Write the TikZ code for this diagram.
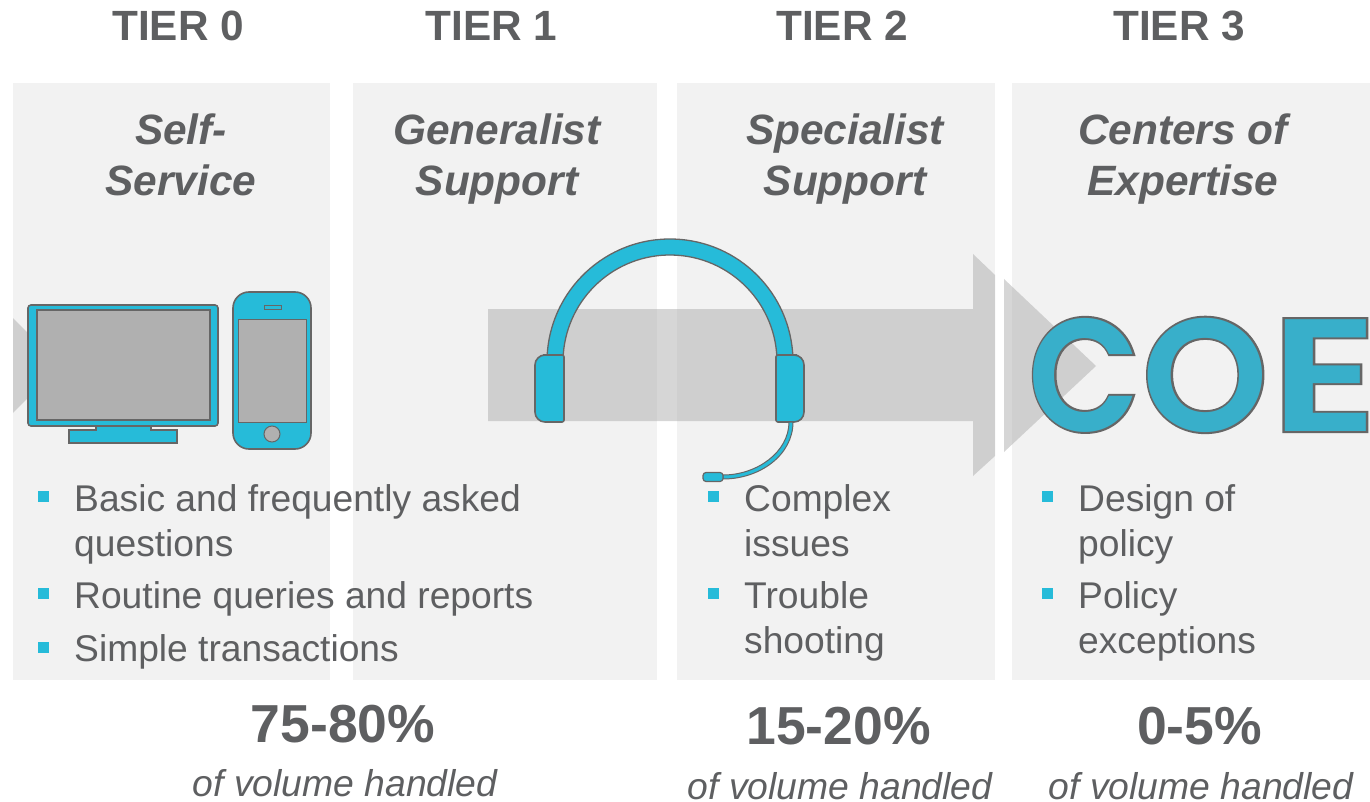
\documentclass[tikz,border=0pt]{standalone}
\usepackage{fontspec}
\setmainfont{Liberation Sans}
\newfontfamily\logofont{Poppins SemiBold}
\newfontfamily\logooutline[FakeBold=2.5]{Poppins SemiBold}
\usetikzlibrary{calc}

\definecolor{panelgrey}{HTML}{F2F2F2}
\definecolor{textgrey}{HTML}{5E5F61}
\definecolor{arrowgrey}{HTML}{A6A6A6}
\definecolor{iconblue}{HTML}{26BBD9}
\definecolor{logoblue}{HTML}{38AFCA}
\definecolor{iconedge}{HTML}{666666}
\definecolor{screengrey}{HTML}{B0B0B0}

\newcommand{\logoword}{\scalebox{.91}[1]{C}\kern2pt O\kern3pt\scalebox{1.25}[1]{E}}

\tikzset{
  panel/.style={fill=panelgrey},
  flow/.style={fill=arrowgrey, fill opacity=0.46},
  icon/.style={draw=iconedge, fill=iconblue, line width=1.6pt},
  screen/.style={draw=iconedge, fill=screengrey, line width=1.6pt},
  tier/.style={text=textgrey, font=\fontsize{42.3}{42}\selectfont\bfseries, anchor=base},
  title/.style={text=textgrey, font=\fontsize{42.4}{51}\selectfont\bfseries\itshape, align=center, anchor=base},
  item/.style={text=textgrey, font=\fontsize{37.2}{45}\selectfont, align=left, anchor=base west, inner sep=0pt},
  tick/.style={fill=iconblue},
  share/.style={text=textgrey, font=\fontsize{53.5}{54}\selectfont\bfseries, anchor=base},
  volume/.style={text=textgrey, font=\fontsize{37.3}{37}\selectfont\itshape, anchor=base},
  logoedge/.style={text=iconedge, anchor=base west, inner sep=0pt, font=\logooutline\fontsize{160}{160}\selectfont},
  logofill/.style={text=logoblue, anchor=base west, inner sep=0pt, font=\logofont\fontsize{160}{160}\selectfont}
}

\begin{document}
\begin{tikzpicture}[x=1pt,y=-1pt]
\useasboundingbox (0,0) rectangle (1370,802);

\fill[panel] (13,83) rectangle (330,680);
\fill[panel] (353,83) rectangle (657,680);
\fill[panel] (677,83) rectangle (995,680);
\fill[panel] (1012,83) rectangle (1370,680);

\fill[flow] (13,318) -- (60,365.5) -- (13,413) -- cycle;
\fill[flow] (488,309) -- (973,309) -- (973,254) -- (995,275) -- (995,456) -- (973,476) -- (973,421) -- (488,421) -- cycle;
\fill[flow] (1004,279) -- (1096,366) -- (1004,452) -- cycle;

\node[tier] (tier0) at (178,41) {TIER 0};
\node[tier] (tier1) at (491.5,41) {TIER 1};
\node[tier] (tier2) at (842,41) {TIER 2};
\node[tier] (tier3) at (1179,41) {TIER 3};

\node[title] (selfservice) at (181,195.5) {Self-\\Service};
\node[title] (generalist) at (497,195.5) {Generalist\\Support};
\node[title] (specialist) at (845,195.5) {Specialist\\Support};
\node[title] (expertise) at (1183,195.5) {Centers of\\Expertise};

% monitor
\draw[icon] (96,426) -- (96,430) -- (69,430) -- (69,443) -- (177,443) -- (177,430) -- (151,430) -- (151,426) -- cycle;
\draw[icon,rounded corners=3pt] (28,305) rectangle (218,426);
\draw[screen] (37,310) rectangle (210,420);

% phone
\draw[icon,rounded corners=16pt] (233,292) rectangle (311,449);
\draw[screen,line width=1pt] (238,319) rectangle (306,422);
\draw[icon,line width=1pt] (264,305) rectangle (281,309);
\draw[screen,line width=1pt] (272,434) circle[radius=8];

% headset
\coordinate (headtop) at (670,362);
\draw[icon,line width=1.3pt] ($(headtop)+(182:123)$) arc[start angle=182, end angle=358, radius=123] -- ($(headtop)+(358:107)$) arc[start angle=358, end angle=182, radius=107] -- cycle;
\draw[icon,rounded corners=2pt] (564,355) -- (545,355) [rounded corners=10pt] -- (535,355) -- (535,422) [rounded corners=2pt] -- (564,422) -- cycle;
\draw[icon,rounded corners=2pt] (776,355) -- (795,355) [rounded corners=10pt] -- (804,355) -- (804,422) [rounded corners=2pt] -- (776,422) -- cycle;
\draw[icon,line width=1pt] (793,422) .. controls (793,455) and (760,479) .. (723,479) -- (723,475) .. controls (757,475) and (789,452) .. (789,422) -- cycle;
\draw[icon,line width=1.2pt,rounded corners=3pt] (703,472.5) rectangle (723,481.5);

% logo
\node[logoedge] (logoedge) at (1028.4,431) {\logoword};
\node[logofill] (logofill) at (1028.4,431) {\logoword};

% left column
\fill[tick] (38,491) rectangle (49,502);
\node[item] (basic) at (74,556) {Basic and frequently asked\\questions};
\fill[tick] (38,588) rectangle (49,599);
\node[item] (routine) at (74,608) {Routine queries and reports};
\fill[tick] (38,642) rectangle (49,653);
\node[item] (simple) at (74,661) {Simple transactions};

% middle column
\fill[tick] (708,491) rectangle (719,502);
\node[item] (complex) at (744,556) {Complex\\issues};
\fill[tick] (708,588) rectangle (719,599);
\node[item] (trouble) at (744,653) {Trouble\\shooting};

% right column
\fill[tick] (1042,491) rectangle (1053,502);
\node[item] (design) at (1078,556) {Design of\\policy};
\fill[tick] (1042,588) rectangle (1053,599);
\node[item] (policy) at (1078,653) {Policy\\exceptions};

\node[share] (shareleft) at (343,742) {75-80\%};
\node[share] (sharemid) at (838.5,744) {15-20\%};
\node[share] (shareright) at (1199.5,744) {0-5\%};

\node[volume] (volleft) at (345,796) {of volume handled};
\node[volume] (volmid) at (840,799) {of volume handled};
\node[volume] (volright) at (1201,799) {of volume handled};

\end{tikzpicture}
\end{document}
